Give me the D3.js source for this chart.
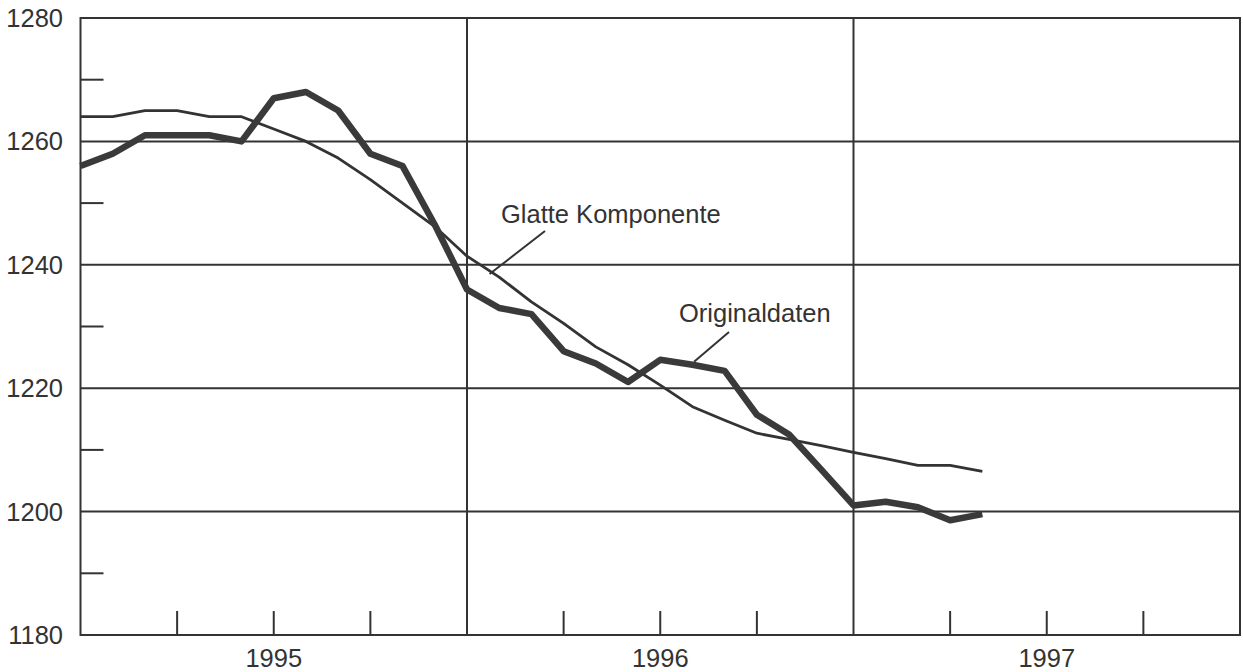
<!doctype html>
<html>
  <head>
    <meta charset="utf-8">
    <script src="https://cdn.jsdelivr.net/npm/d3@7"></script>
    <style>
      body { margin: 0; background: #fff; }
      text { font-family: "Liberation Sans", Arial, sans-serif; fill: #333; font-size: 25.5px; }
    </style>
  </head>
  <body>
    <svg id="chart" width="1243" height="672"></svg>
    <script>
      // monthly values, Jan 1995 .. May 1997
      const original = [1256, 1258, 1261, 1261, 1261, 1260, 1267, 1268, 1265, 1258, 1256, 1246.5,
        1236, 1233, 1232, 1226, 1224, 1221, 1224.6, 1223.8, 1222.8, 1215.7, 1212.5, 1206.8,
        1201, 1201.6, 1200.7, 1198.6, 1199.6];
      const smooth = [1264, 1264, 1265, 1265, 1264, 1264, 1262, 1260, 1257.3, 1253.8, 1250, 1246.2,
        1241.4, 1238, 1234, 1230.5, 1226.7, 1223.8, 1220.5, 1217, 1214.8, 1212.7, 1211.7, 1210.7,
        1209.6, 1208.6, 1207.5, 1207.5, 1206.5];
      const years = ["1995", "1996", "1997"];
      const yLabels = [1180, 1200, 1220, 1240, 1260, 1280];

      const svg = d3.select("#chart");
      const x = d3.scaleLinear().domain([0, 36]).range([80.5, 1240]);
      const y = d3.scaleLinear().domain([1180, 1280]).range([635, 18]);
      const ink = "#333";

      // horizontal gridlines
      svg.selectAll(".hgrid")
        .data([1200, 1220, 1240, 1260])
        .enter().append("line")
        .attr("x1", x(0)).attr("x2", x(36))
        .attr("y1", d => y(d)).attr("y2", d => y(d))
        .style("stroke", ink).style("stroke-width", 2);

      // minor y ticks
      svg.selectAll(".ytick")
        .data([1190, 1210, 1230, 1250, 1270])
        .enter().append("line")
        .attr("x1", x(0)).attr("x2", x(0) + 23)
        .attr("y1", d => y(d)).attr("y2", d => y(d))
        .style("stroke", ink).style("stroke-width", 2);

      // year boundaries
      svg.selectAll(".vgrid")
        .data([12, 24])
        .enter().append("line")
        .attr("x1", d => x(d)).attr("x2", d => x(d))
        .attr("y1", y(1280)).attr("y2", y(1180))
        .style("stroke", ink).style("stroke-width", 2);

      // quarter ticks
      svg.selectAll(".xtick")
        .data(d3.range(3, 36, 3).filter(m => m % 12 !== 0))
        .enter().append("line")
        .attr("x1", d => x(d)).attr("x2", d => x(d))
        .attr("y1", y(1180)).attr("y2", y(1180) - 24)
        .style("stroke", ink).style("stroke-width", 2);

      // frame
      svg.append("rect")
        .attr("x", x(0)).attr("y", y(1280))
        .attr("width", x(36) - x(0)).attr("height", y(1180) - y(1280))
        .style("fill", "none").style("stroke", ink).style("stroke-width", 2);

      // y labels
      svg.selectAll(".ylab")
        .data(yLabels)
        .enter().append("text")
        .attr("x", 63).attr("y", d => y(d))
        .attr("dy", "0.35em")
        .attr("text-anchor", "end")
        .text(d => d);

      // year labels
      svg.selectAll(".xlab")
        .data(years)
        .enter().append("text")
        .attr("x", (d, i) => x(6 + i * 12))
        .attr("y", 667)
        .attr("text-anchor", "middle")
        .text(d => d);

      const line = d3.line()
        .x((d, i) => x(i))
        .y(d => y(d));

      svg.append("path")
        .datum(smooth)
        .attr("d", line)
        .style("fill", "none").style("stroke", ink)
        .style("stroke-width", 2.8).style("stroke-linejoin", "round");

      svg.append("path")
        .datum(original)
        .attr("d", line)
        .style("fill", "none").style("stroke", "#3a3a3a")
        .style("stroke-width", 6.5).style("stroke-linejoin", "round");

      // annotations
      svg.append("text")
        .attr("x", 501).attr("y", 223)
        .text("Glatte Komponente");
      svg.append("line")
        .attr("x1", 545).attr("y1", 231).attr("x2", x(12.7)).attr("y2", y(1238.5))
        .style("stroke", ink).style("stroke-width", 2);

      svg.append("text")
        .attr("x", 679).attr("y", 322)
        .text("Originaldaten");
      svg.append("line")
        .attr("x1", 729).attr("y1", 332).attr("x2", x(19.05)).attr("y2", y(1224.3))
        .style("stroke", ink).style("stroke-width", 2);
    </script>
  </body>
</html>
